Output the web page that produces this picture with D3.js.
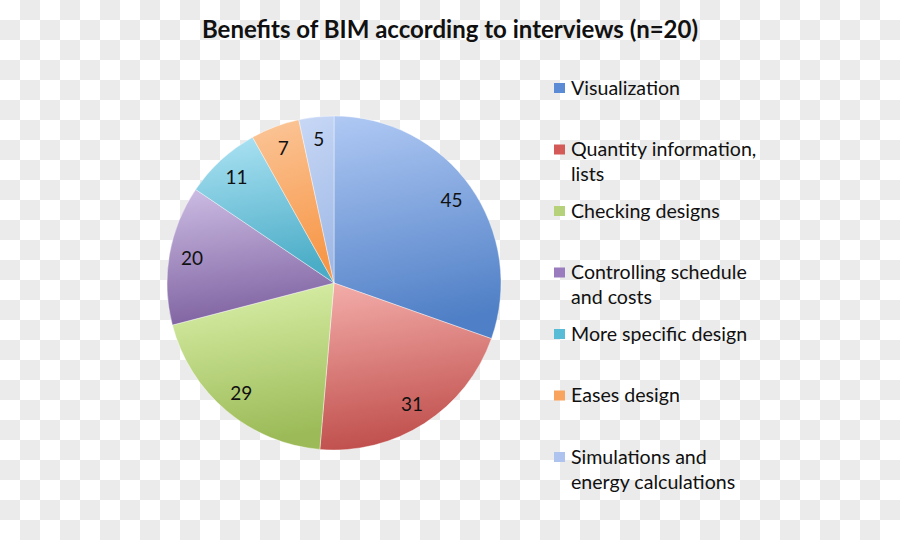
<!DOCTYPE html>
<html><head><meta charset="utf-8">
<script src="https://cdn.jsdelivr.net/npm/d3@7"></script>
<style>body{margin:0;padding:0;}svg{display:block;}</style>
</head><body>
<script>
const categories = ["Visualization","Quantity information, lists","Checking designs","Controlling schedule and costs","More specific design","Eases design","Simulations and energy calculations"];
const legendLines = [["Visualization"],["Quantity information,","lists"],["Checking designs"],["Controlling schedule","and costs"],["More specific design"],["Eases design"],["Simulations and","energy calculations"]];
const values = [45,31,29,20,11,7,5];
const topColors = ["#b0c9f4","#f4aeab","#dcf2ac","#cdbde4","#ade3f4","#fbc699","#c8d8f6"];
const bottomColors = ["#4f7fc6","#c0504d","#9cbb58","#8064a2","#4aacc6","#f79646","#9fb9e6"];
const legendColors = ["#5b8bd4","#d45a57","#b5d27a","#9a7bbd","#58bcd6","#f8a35e","#aec4ee"];
const title = "Benefits of BIM according to interviews (n=20)";

const W=900,H=540;
const svg=d3.select("body").append("svg").attr("width",W).attr("height",H);
const defs=svg.append("defs");
const pat=defs.append("pattern").attr("id","chk").attr("width",40).attr("height",40).attr("patternUnits","userSpaceOnUse");
pat.append("rect").attr("width",40).attr("height",40).attr("fill","#ffffff");
pat.append("rect").attr("x",20).attr("y",0).attr("width",20).attr("height",20).attr("fill","#ebebeb");
pat.append("rect").attr("x",0).attr("y",20).attr("width",20).attr("height",20).attr("fill","#ebebeb");
svg.append("rect").attr("width",W).attr("height",H).attr("fill","url(#chk)");

values.forEach((v,i)=>{
  const g=defs.append("linearGradient").attr("id","g"+i).attr("x1",0).attr("y1",0).attr("x2",0.15).attr("y2",1);
  g.append("stop").attr("offset","0%").attr("stop-color",topColors[i]);
  g.append("stop").attr("offset","100%").attr("stop-color",bottomColors[i]);
});

svg.append("text").attr("x",450).attr("y",38).attr("text-anchor","middle")
  .attr("font-family","Lato, 'Open Sans', sans-serif").attr("font-weight","bold").attr("font-size",24)
  .attr("fill","#111").text(title);

const cx=334,cy=283,r=167;
const pie=d3.pie().sort(null).value(d=>d);
const arcs=pie(values);
const arc=d3.arc().innerRadius(0).outerRadius(r);
const labelArc=d3.arc().innerRadius(144).outerRadius(144);
const gp=svg.append("g").attr("transform",`translate(${cx},${cy})`);
gp.selectAll("path").data(arcs).enter().append("path")
  .attr("d",arc).attr("fill",(d,i)=>`url(#g${i})`)
  .attr("stroke","rgba(255,255,255,0.5)").attr("stroke-width",0.8);
gp.selectAll("text").data(arcs).enter().append("text")
  .attr("transform",d=>`translate(${labelArc.centroid(d)})`)
  .attr("text-anchor","middle").attr("dy","0.35em")
  .attr("font-family","Lato, 'Open Sans', sans-serif").attr("font-size",19).attr("fill","#111")
  .text(d=>d.data);

const lg=svg.append("g");
legendLines.forEach((lines,i)=>{
  const y=88+i*61.5;
  lg.append("rect").attr("x",554).attr("y",y-5).attr("width",11).attr("height",10).attr("fill",legendColors[i]);
  const t=lg.append("text").attr("x",571).attr("y",y+6.5)
    .attr("font-family","Lato, 'Open Sans', sans-serif").attr("font-size",19.6).attr("fill","#111");
  lines.forEach((ln,j)=>t.append("tspan").attr("x",571).attr("dy",j?25:0).text(ln));
});
</script>
</body></html>
